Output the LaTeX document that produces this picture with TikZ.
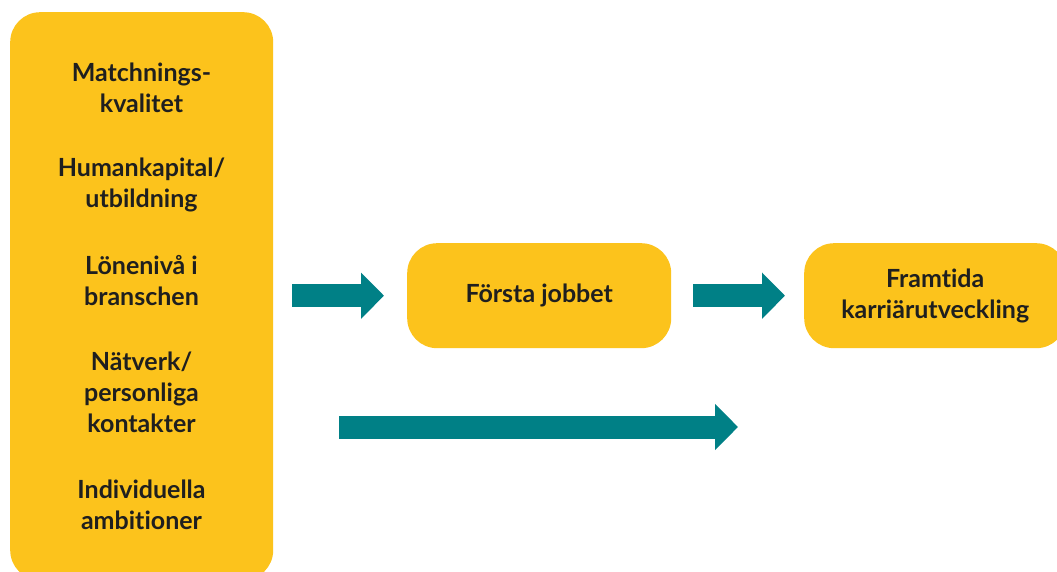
\documentclass[tikz,border=0pt]{standalone}
\usepackage{fontspec}
\setmainfont{Lato}[UprightFont=* Bold, RawFeature=-liga]
\usetikzlibrary{arrows.meta}
\definecolor{boxyellow}{HTML}{FCC31C}
\definecolor{flowteal}{HTML}{008086}
\definecolor{labeltext}{HTML}{1F1F1F}
\tikzset{
  factorbox/.style={fill=boxyellow, rounded corners=30pt, inner sep=0pt},
  label text/.style={text=labeltext, font=\fontsize{25}{31}\selectfont, align=center},
  bigarrow/.style={draw=flowteal, line width=23pt,
    -{Triangle[length=23pt, width=45pt, fill=flowteal]}}
}
\begin{document}
\begin{tikzpicture}[x=1pt, y=-1pt]
  \useasboundingbox (0,0) rectangle (1057,572);
  \clip (0,0) rectangle (1057,572);
  \fill[white] (0,0) rectangle (1057,572);

  % factor column
  \node[factorbox, minimum width=263pt, minimum height=568pt, anchor=north west]
    (factors) at (10,12) {};
  \node[label text] (f1) at (141.5,88) {Matchnings-\\kvalitet};
  \node[label text] (f2) at (141.5,185) {Humankapital/\\utbildning};
  \node[label text] (f3) at (141.5,281) {Lönenivå i\\branschen};
  \node[label text] (f4) at (141.5,392) {Nätverk/\\personliga\\kontakter};
  \node[label text] (f5) at (141.5,505) {Individuella\\ambitioner};

  % outcomes
  \node[factorbox, minimum width=264pt, minimum height=105pt, anchor=north west]
    (first) at (407,243) {};
  \node[label text] at (first.center) {Första jobbet};
  \node[factorbox, minimum width=262pt, minimum height=105pt, anchor=north west]
    (career) at (804,243) {};
  \node[label text] at (career.center) {Framtida\\karriärutveckling};

  % flows
  \draw[bigarrow, shorten <=19pt, shorten >=23pt]
    (factors.east |- first.west) -- (first.west);
  \draw[bigarrow, shorten <=22pt, shorten >=19pt]
    (first.east) -- (career.west);
  \coordinate (directstart) at (339,427);
  \coordinate (directend) at (738,427);
  \draw[bigarrow] (directstart) -- (directend);
\end{tikzpicture}
\end{document}
